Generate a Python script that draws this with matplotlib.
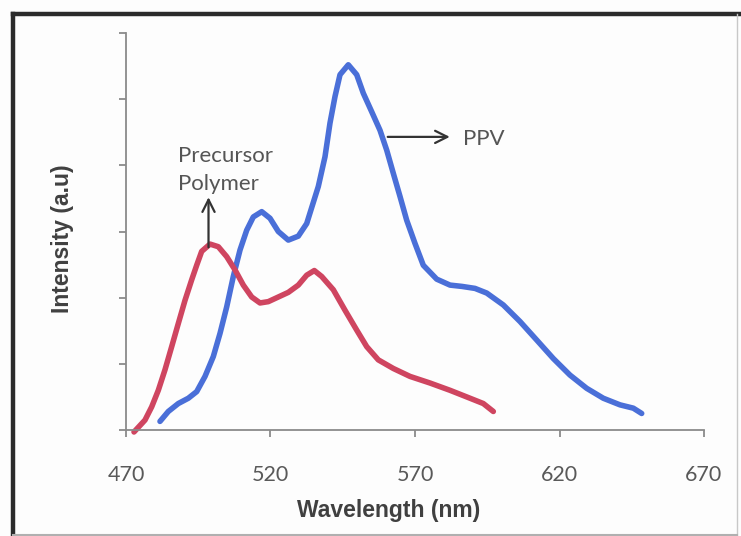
import numpy as np
import matplotlib.pyplot as plt
from matplotlib.lines import Line2D

# PPV emission (blue)
ppv_wl = [481.76, 484.64, 488.10, 491.56, 494.46, 497.34, 500.21, 502.53, 504.84, 507.13,
          509.45, 511.77, 514.05, 516.96, 519.83, 522.70, 526.16, 529.62, 532.53, 533.67,
          536.54, 538.86, 540.59, 542.32, 544.05, 546.92, 549.83, 552.11, 555.02, 557.89,
          560.21, 562.49, 564.81, 567.13, 570.00, 572.87, 577.51, 582.11, 586.26, 590.76,
          594.81, 600.55, 606.33, 612.11, 617.86, 623.63, 629.41, 635.16, 640.93, 645.54,
          648.44]
ppv_int = [0.13, 0.28, 0.40, 0.48, 0.58, 0.81, 1.11, 1.46, 1.86, 2.32,
           2.72, 3.02, 3.22, 3.30, 3.20, 3.00, 2.87, 2.93, 3.12, 3.28,
           3.68, 4.13, 4.64, 5.04, 5.37, 5.52, 5.37, 5.09, 4.81, 4.53,
           4.23, 3.88, 3.53, 3.17, 2.82, 2.49, 2.28, 2.19, 2.17, 2.14,
           2.07, 1.89, 1.64, 1.36, 1.08, 0.83, 0.63, 0.48, 0.38, 0.33,
           0.25]

# precursor polymer emission (red)
pre_wl = [472.77, 476.57, 478.89, 481.18, 483.49, 485.81, 488.10, 490.42, 492.73, 494.46,
          496.19, 499.07, 501.94, 504.84, 507.72, 510.59, 513.50, 516.37, 519.24, 522.70,
          526.16, 529.62, 532.53, 535.16, 537.72, 541.73, 545.78, 549.83, 553.29, 557.30,
          562.49, 568.27, 575.19, 582.11, 587.89, 593.63, 597.10]
pre_int = [-0.03, 0.15, 0.35, 0.60, 0.91, 1.26, 1.61, 1.96, 2.27, 2.49,
           2.70, 2.81, 2.77, 2.62, 2.42, 2.19, 2.01, 1.92, 1.94, 2.01,
           2.08, 2.19, 2.34, 2.41, 2.32, 2.12, 1.81, 1.51, 1.26, 1.06,
           0.93, 0.81, 0.71, 0.60, 0.50, 0.40, 0.28]

xticks = [470, 520, 570, 620, 670]

W, H = 741, 536
fig = plt.figure(figsize=(W / 100, H / 100), dpi=100)
fig.patch.set_facecolor('#fdfdfd')
ax = fig.add_axes([126 / W, 1 - 430 / H, (704 - 126) / W, (430 - 33) / H])
ax.set_facecolor('none')

blue = '#4a6fd8'
red = '#cf4560'
ax.plot(ppv_wl, ppv_int, color=blue, lw=4.0, solid_capstyle='round',
        solid_joinstyle='round', clip_on=False)
ax.plot(pre_wl, pre_int, color=red, lw=4.0, solid_capstyle='round',
        solid_joinstyle='round', clip_on=False)

ax.set_xlim(470, 670)
ax.set_ylim(0, 6)
ax.set_xticks(xticks)
ax.set_yticks(range(7))
ax.set_yticklabels([])
for s in ['top', 'right']:
    ax.spines[s].set_visible(False)
for s in ['left', 'bottom']:
    ax.spines[s].set_color('#8a8a8a')
    ax.spines[s].set_linewidth(1.3)
ax.tick_params(axis='both', direction='out', length=5, width=1.3, color='#8a8a8a')
ax.tick_params(axis='x', pad=20, labelsize=15.5, labelcolor='#595959')
for lab in ax.get_xticklabels():
    lab.set_family('Lato')

# annotations
arr = dict(arrowstyle='->', color='#333333', lw=1.6, mutation_scale=22)
ax.annotate('', xy=(498.55, 3.56), xytext=(498.55, 2.72), arrowprops=arr)
ax.annotate('', xy=(583.0, 4.43), xytext=(559.6, 4.43), arrowprops=arr)
ax.text(488.0, 4.05, 'Precursor', family='Lato', fontsize=16,
        color='#555555', va='baseline')
ax.text(488.0, 3.63, 'Polymer', family='Lato', fontsize=16,
        color='#555555', va='baseline')
ax.text(586.6, 4.43, 'PPV', family='Lato', fontsize=16,
        color='#555555', va='center_baseline')

fig.text(389 / W, 1 - 511 / H, 'Wavelength (nm)', family='Liberation Sans',
         weight='bold', fontsize=16.5, color='#404040', ha='center', va='center')
fig.text(63 / W, 1 - 239 / H, 'Intensity (a.u)', family='Liberation Sans',
         weight='bold', fontsize=16.5, color='#404040', ha='center', va='center',
         rotation=90)

# outer frame of the picture
fig.add_artist(Line2D([13 / W, 1], [1 - 14 / H, 1 - 14 / H], color='#2b2b2b', lw=3.2))
fig.add_artist(Line2D([13 / W, 13 / W], [0, 1 - 14 / H], color='#2b2b2b', lw=3.2))
fig.add_artist(Line2D([737 / W, 737 / W], [0, 1 - 14 / H], color='#c8c8c8', lw=1.0))
fig.add_artist(Line2D([13 / W, 737 / W], [1 / H, 1 / H], color='#b0b0b0', lw=1.5))

fig.savefig('out.png', dpi=100)
